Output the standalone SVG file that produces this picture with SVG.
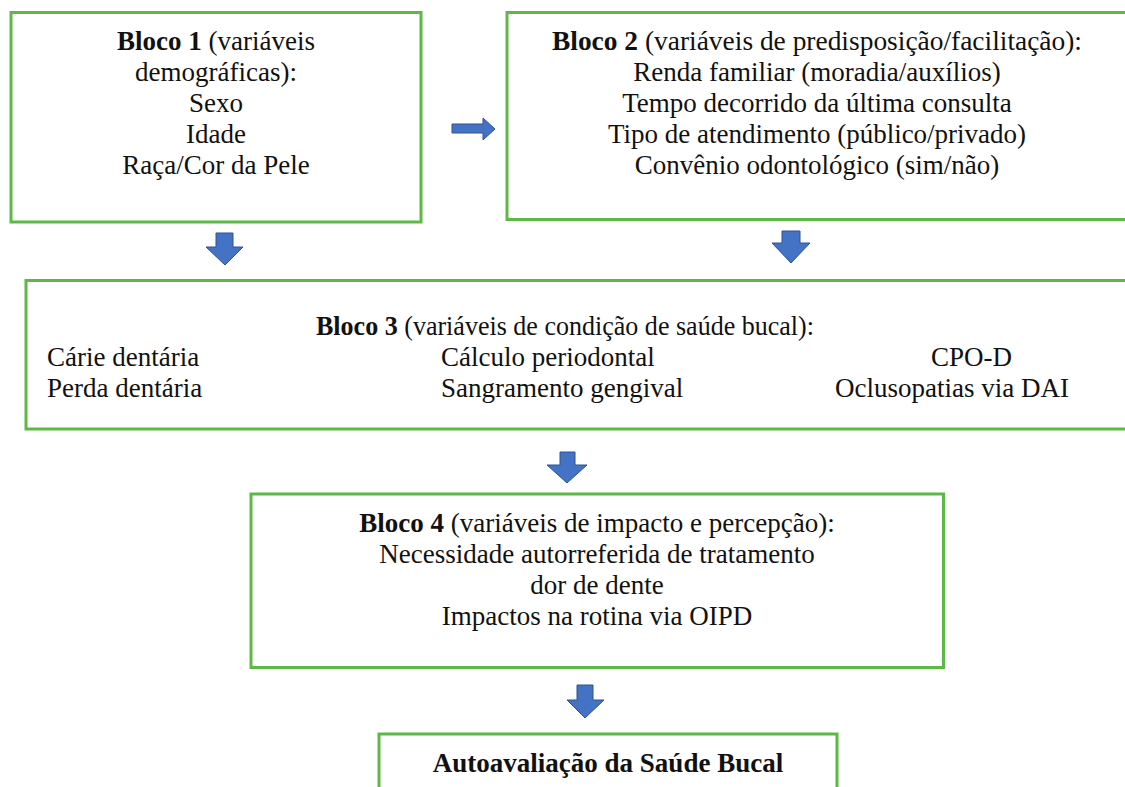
<svg xmlns="http://www.w3.org/2000/svg" width="1125" height="787" viewBox="0 0 1125 787">
<style>
.box{fill:#ffffff;stroke:#5db845;stroke-width:3}
.t{font-family:"Liberation Serif","Times New Roman",serif;font-size:27px;fill:#111111}
.c{text-anchor:middle}
.b{font-weight:bold}
.arr{fill:#4472c4;stroke:#2f528f;stroke-width:1}
</style>
<rect width="1125" height="787" fill="#ffffff"/>
<g id="connectors">
<path class="arr" d="M452,124 H483 V118 L495,129 L483,140 V133 H452 Z"/>
<path class="arr" d="M216,233 H233 V247 H243 L225,265 L206,247 H216 Z"/>
<path class="arr" d="M782,231 H800 V243 H810 L791,263 L772,243 H782 Z"/>
<path class="arr" d="M560,452 H575 V465 H587 L567,483 L547,465 H560 Z"/>
<path class="arr" d="M577,685 H593 V700 H604 L585,718 L567,700 H577 Z"/>
</g>
<g id="bloco1">
<rect class="box" x="11" y="12.5" width="410" height="209.5"/>
<text class="t c" x="216" y="50"><tspan class="b">Bloco 1</tspan> (variáveis</text>
<text class="t c" x="216" y="81">demográficas):</text>
<text class="t c" x="216" y="112">Sexo</text>
<text class="t c" x="216" y="143">Idade</text>
<text class="t c" x="216" y="174">Raça/Cor da Pele</text>
</g>
<g id="bloco2">
<rect class="box" x="507" y="12.5" width="625" height="207"/>
<text class="t c" x="817" y="50" textLength="530" lengthAdjust="spacingAndGlyphs"><tspan class="b">Bloco 2</tspan> (variáveis de predisposição/facilitação):</text>
<text class="t c" x="817" y="81">Renda familiar (moradia/auxílios)</text>
<text class="t c" x="817" y="112">Tempo decorrido da última consulta</text>
<text class="t c" x="817" y="143">Tipo de atendimento (público/privado)</text>
<text class="t c" x="817" y="174">Convênio odontológico (sim/não)</text>
</g>
<g id="bloco3">
<rect class="box" x="26" y="280.5" width="1106" height="148.5"/>
<text class="t" x="316" y="335" textLength="498" lengthAdjust="spacingAndGlyphs"><tspan class="b">Bloco 3</tspan> (variáveis de condição de saúde bucal):</text>
<text class="t" x="47" y="366">Cárie dentária</text>
<text class="t" x="47" y="397">Perda dentária</text>
<text class="t" x="441" y="366">Cálculo periodontal</text>
<text class="t" x="441" y="397">Sangramento gengival</text>
<text class="t" x="931" y="366">CPO-D</text>
<text class="t" x="835" y="397">Oclusopatias via DAI</text>
</g>
<g id="bloco4">
<rect class="box" x="251" y="494" width="692.5" height="173.5"/>
<text class="t c" x="597" y="532"><tspan class="b">Bloco 4</tspan> (variáveis de impacto e percepção):</text>
<text class="t c" x="597" y="563">Necessidade autorreferida de tratamento</text>
<text class="t c" x="597" y="594">dor de dente</text>
<text class="t c" x="597" y="625">Impactos na rotina via OIPD</text>
</g>
<g id="autoavaliacao">
<rect class="box" x="379" y="734" width="458" height="70"/>
<text class="t c b" x="608" y="772">Autoavaliação da Saúde Bucal</text>
</g>
</svg>
